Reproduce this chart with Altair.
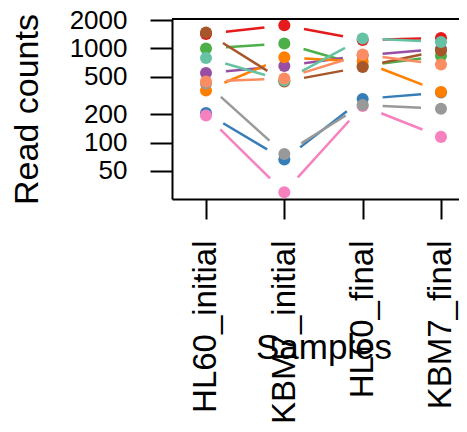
import altair as alt
import pandas as pd
import numpy as np

# ---- data ----
samples = ["HL60_initial", "KBM7_initial", "HL60_final", "KBM7_final"]
series = ["g01", "g02", "g03", "g04", "g05", "g06", "g07", "g08", "g09", "g10"]
colors = ["#E41A1C", "#377EB8", "#4DAF4A", "#984EA3", "#FF7F00",
          "#A65628", "#F781BF", "#999999", "#66C2A5", "#FC8D62"]
g01 = [1422, 1760, 1228, 1290]   # red
g02 = [206, 66, 290, 340]        # blue
g03 = [995, 1127, 651, 831]      # green
g04 = [548, 651, 841, 986]       # purple
g05 = [357, 803, 726, 345]       # orange
g06 = [1476, 445, 635, 950]      # brown
g07 = [194, 29.7, 245, 115]      # pink
g08 = [424, 75.7, 251, 229]      # grey
g09 = [791, 456, 1274, 1170]     # teal
g10 = [445, 479, 862, 675]       # salmon
values = [g01, g02, g03, g04, g05, g06, g07, g08, g09, g10]
y_ticks = [50, 100, 200, 500, 1000, 2000]

# ---- layout ----
W, H = 287, 180
XDOM = [0.566, 0.566 + W / 78.33]
YDOM = [25.2, 2050]
px_x = W / (XDOM[1] - XDOM[0])
px_y = H / (np.log10(YDOM[1]) - np.log10(YDOM[0]))
GAP = 20.0

pts = []
segs = []
for s, vals in zip(series, values):
    for i, v in enumerate(vals):
        pts.append({"series": s, "pos": i + 1, "count": v})
    for i in range(len(vals) - 1):
        l1, l2 = np.log10(vals[i]), np.log10(vals[i + 1])
        dxp, dyp = px_x, (l2 - l1) * px_y
        t = GAP / np.hypot(dxp, dyp)
        segs.append({
            "series": s,
            "xs": (i + 1) + t, "xe": (i + 2) - t,
            "ys": 10 ** (l1 + t * (l2 - l1)), "ye": 10 ** (l2 - t * (l2 - l1)),
        })
pts = pd.DataFrame(pts)
segs = pd.DataFrame(segs)

FONT = "Liberation Sans"
label_expr = "[" + ",".join("'%s'" % s for s in samples) + "][datum.value - 1]"

xscale = alt.Scale(domain=XDOM, nice=False, zero=False)
yscale = alt.Scale(type="log", domain=YDOM, nice=False)
cscale = alt.Scale(domain=series, range=colors)

xaxis = alt.Axis(values=[1, 2, 3, 4], labelExpr=label_expr, labelAngle=270,
                 labelAlign="right", labelBaseline="middle", labelFontSize=33,
                 labelFont=FONT, labelColor="black", labelPadding=21, labelLimit=500,
                 labelFlush=False, labelOverlap=False, tickSize=20, tickWidth=2,
                 tickColor="black", domainColor="black", domainWidth=2, grid=False,
                 title="Samples", titleFont=FONT, titleFontSize=35,
                 titleFontWeight="normal", titleColor="black", titleX=151.5,
                 titleY=159, titleBaseline="alphabetic", titleAlign="center",
                 titleAngle=0, titleLimit=500)
yaxis = alt.Axis(values=y_ticks, format="d", labelFontSize=26, labelFont=FONT,
                 labelColor="black", labelPadding=23, labelAlign="right",
                 labelBaseline="middle", labelOverlap=False, labelFlush=False,
                 tickSize=22, tickWidth=2, tickColor="black", domainColor="black",
                 domainWidth=2, grid=False, title="Read counts", titleFont=FONT,
                 titleFontSize=34, titleFontWeight="normal", titleColor="black",
                 titleX=-135, titleY=90, titleAngle=270, titleBaseline="alphabetic",
                 titleAlign="center", titleLimit=500)

lines = alt.Chart(segs).mark_rule(strokeWidth=2.5).encode(
    x=alt.X("xs:Q", scale=xscale, axis=xaxis),
    x2="xe:Q",
    y=alt.Y("ys:Q", scale=yscale, axis=yaxis),
    y2="ye:Q",
    color=alt.Color("series:N", scale=cscale, legend=None),
)

points = alt.Chart(pts).mark_circle(size=145, opacity=1).encode(
    x=alt.X("pos:Q", scale=xscale),
    y=alt.Y("count:Q", scale=yscale),
    color=alt.Color("series:N", scale=cscale, legend=None),
    order=alt.Order("series:N"),
)

top = alt.Chart(pd.DataFrame({"a": [0]})).mark_rule(color="black", strokeWidth=2).encode(
    y=alt.value(0), x=alt.value(0), x2=alt.value(W)
)

chart = alt.layer(lines, points, top).properties(
    width=W, height=H,
    autosize=alt.AutoSizeParams(type="none"),
    padding={"left": 164, "top": 11, "right": 0, "bottom": 225},
    background="white",
).configure_view(strokeWidth=0)

chart.save("out.html", embed_options={"renderer": "svg", "actions": False})
